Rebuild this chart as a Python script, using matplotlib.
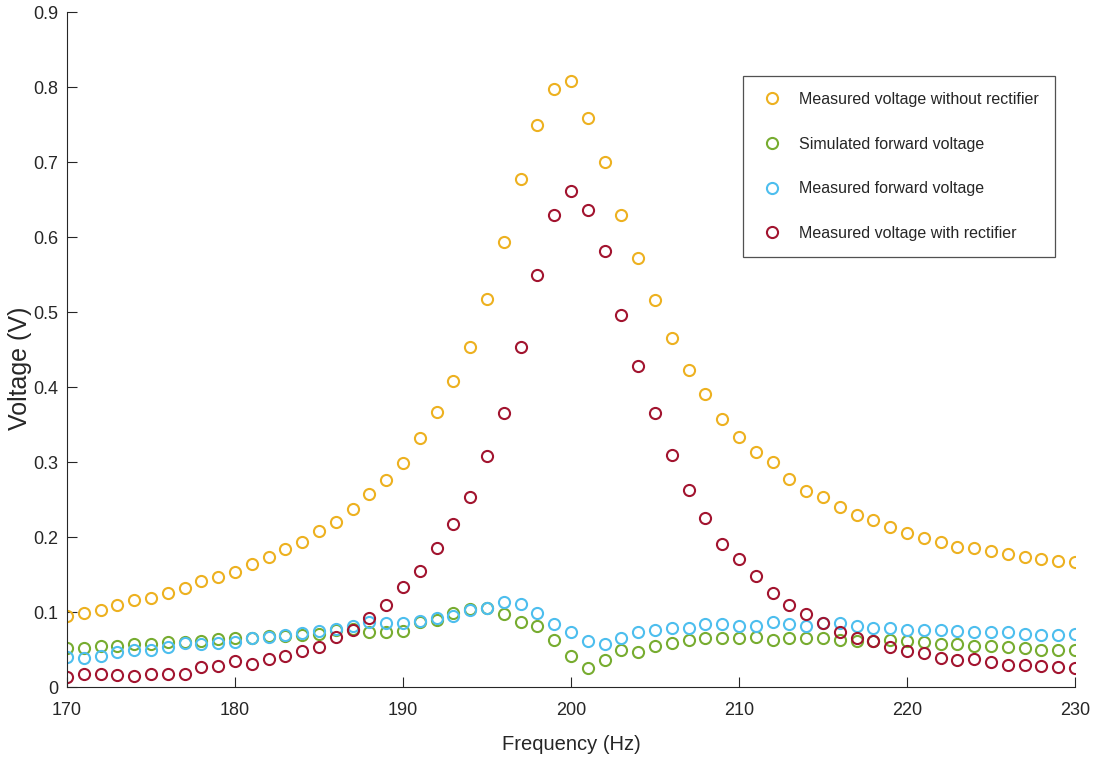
import matplotlib
matplotlib.use("Agg")
import matplotlib.pyplot as plt
import numpy as np

plt.rcParams['font.family'] = ['Liberation Sans', 'DejaVu Sans']

freq = np.arange(170, 231)

# measured voltage without rectifier (V)
v_no_rect = [0.095, 0.099, 0.103, 0.110, 0.116, 0.119, 0.126, 0.132, 0.141, 0.147,
             0.154, 0.164, 0.173, 0.184, 0.194, 0.208, 0.220, 0.237, 0.257, 0.276,
             0.299, 0.332, 0.367, 0.408, 0.454, 0.518, 0.594, 0.677, 0.749, 0.798,
             0.809, 0.759, 0.700, 0.629, 0.572, 0.516, 0.466, 0.423, 0.391, 0.358,
             0.334, 0.313, 0.300, 0.278, 0.262, 0.253, 0.240, 0.229, 0.223, 0.213,
             0.205, 0.199, 0.193, 0.187, 0.186, 0.181, 0.178, 0.174, 0.171, 0.168,
             0.167]

# simulated forward voltage (V)
v_sim_fwd = [0.052, 0.052, 0.055, 0.055, 0.058, 0.058, 0.060, 0.060, 0.062, 0.064,
             0.066, 0.066, 0.068, 0.068, 0.070, 0.071, 0.076, 0.078, 0.073, 0.074,
             0.075, 0.087, 0.090, 0.099, 0.104, 0.106, 0.098, 0.087, 0.082, 0.063,
             0.042, 0.026, 0.036, 0.049, 0.047, 0.055, 0.059, 0.063, 0.066, 0.066,
             0.066, 0.067, 0.063, 0.065, 0.066, 0.066, 0.063, 0.062, 0.062, 0.063,
             0.061, 0.060, 0.058, 0.057, 0.055, 0.055, 0.053, 0.052, 0.050, 0.050,
             0.049]

# measured forward voltage (V)
v_meas_fwd = [0.040, 0.039, 0.042, 0.047, 0.050, 0.050, 0.053, 0.059, 0.057, 0.059,
              0.060, 0.066, 0.067, 0.070, 0.072, 0.075, 0.078, 0.082, 0.087, 0.085,
              0.085, 0.088, 0.092, 0.095, 0.103, 0.106, 0.114, 0.111, 0.099, 0.084,
              0.074, 0.062, 0.058, 0.066, 0.073, 0.076, 0.079, 0.079, 0.084, 0.084,
              0.081, 0.082, 0.087, 0.084, 0.082, 0.086, 0.085, 0.082, 0.079, 0.079,
              0.076, 0.076, 0.076, 0.075, 0.074, 0.073, 0.073, 0.071, 0.070, 0.070,
              0.071]

# measured voltage with rectifier (V)
v_rect = [0.013, 0.017, 0.017, 0.016, 0.015, 0.017, 0.018, 0.017, 0.027, 0.028,
          0.035, 0.031, 0.037, 0.041, 0.048, 0.054, 0.067, 0.076, 0.092, 0.109,
          0.134, 0.155, 0.185, 0.218, 0.254, 0.308, 0.365, 0.454, 0.550, 0.629,
          0.661, 0.636, 0.582, 0.496, 0.428, 0.365, 0.309, 0.263, 0.226, 0.191,
          0.171, 0.148, 0.126, 0.110, 0.097, 0.086, 0.073, 0.065, 0.062, 0.053,
          0.048, 0.045, 0.039, 0.036, 0.037, 0.033, 0.030, 0.029, 0.028, 0.027,
          0.025]

series = [
    (v_no_rect, '#EDB120', 'Measured voltage without rectifier'),
    (v_sim_fwd, '#77AC30', 'Simulated forward voltage'),
    (v_meas_fwd, '#4DBEEE', 'Measured forward voltage'),
    (v_rect, '#A2142F', 'Measured voltage with rectifier'),
]

fig = plt.figure(figsize=(10.94, 7.63), dpi=100)
ax = fig.add_axes([0.0612, 0.0996, 0.9214, 0.8843])

for vals, col, lab in series:
    ax.plot(freq, vals, linestyle='none', marker='o', markersize=8,
            markerfacecolor='none', markeredgecolor=col, markeredgewidth=1.5,
            label=lab)

axcol = '#262626'
ax.set_xlim(170, 230)
ax.set_ylim(0, 0.9)
ax.set_xticks(np.arange(170, 231, 10))
ax.set_yticks(np.arange(0, 0.91, 0.1))
ax.set_yticklabels(['0'] + ['%.1f' % t for t in np.arange(0.1, 0.91, 0.1)])
ax.tick_params(direction='in', length=7, width=0.8, color=axcol,
               labelcolor=axcol, labelsize=13)
ax.tick_params(axis='x', pad=11)
ax.tick_params(axis='y', pad=6.5)
for side in ['top', 'right']:
    ax.spines[side].set_visible(False)
for side in ['left', 'bottom']:
    ax.spines[side].set_color(axcol)
    ax.spines[side].set_linewidth(0.8)

ax.set_xlabel('Frequency (Hz)', fontsize=14.5, color=axcol, labelpad=11)
ax.set_ylabel('Voltage (V)', fontsize=18, color=axcol)
ax.yaxis.set_label_coords(-0.035, 0.473)

leg = ax.legend(loc='upper left', bbox_to_anchor=(0.6706, 0.9056), fontsize=11.5,
                frameon=True, fancybox=False, borderpad=1.0, labelspacing=1.86,
                handlelength=1.63, handletextpad=0.875, borderaxespad=0)
leg.get_frame().set_edgecolor(axcol)
leg.get_frame().set_linewidth(0.9)
for t in leg.get_texts():
    t.set_color(axcol)

plt.savefig('out.png', dpi=100)
